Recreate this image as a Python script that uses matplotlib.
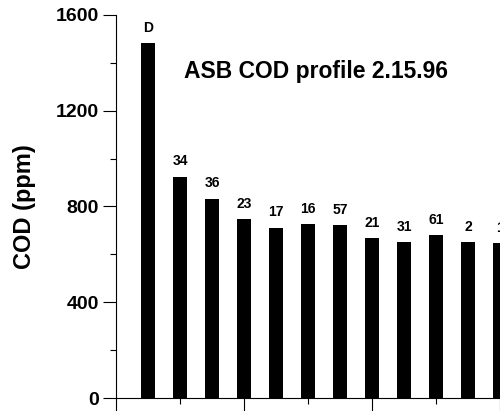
import matplotlib.pyplot as plt
from matplotlib.ticker import MultipleLocator

# sample points along the basin
labels = ['D', '34', '36', '23', '17', '16', '57', '21', '31', '61', '2', '1']
cod = [1483, 925, 833, 746, 712, 725, 721, 667, 650, 679, 650, 646]
positions = list(range(1, len(cod) + 1))

plt.rcParams['font.family'] = ['Liberation Sans', 'DejaVu Sans']
plt.rcParams['font.weight'] = 'bold'

fig = plt.figure(figsize=(5.0, 4.11), dpi=100)
ax = fig.add_axes([0.232, 0.0316, 0.768, 0.932])

ax.bar(positions, cod, width=0.41, color='black')
for x, y, lab in zip(positions, cod, labels):
    ax.annotate(lab, (x, y), xytext=(0, 6), textcoords='offset points',
                ha='center', va='bottom', fontsize=10, fontweight='bold')

ax.set_xlim(0, 12)
ax.set_ylim(0, 1600)
ax.yaxis.set_major_locator(MultipleLocator(400))
ax.yaxis.set_minor_locator(MultipleLocator(200))
ax.xaxis.set_major_locator(MultipleLocator(4))
ax.xaxis.set_minor_locator(MultipleLocator(2))
ax.set_xticklabels([])
ax.tick_params(axis='both', which='major', length=9.5, width=0.8, direction='out')
ax.tick_params(axis='both', which='minor', length=4.5, width=0.8, direction='out')
ax.tick_params(axis='y', labelsize=14, pad=3)
for t in ax.get_yticklabels():
    t.set_fontweight('bold')

ax.spines['top'].set_visible(False)
ax.spines['right'].set_visible(False)
ax.spines['left'].set_linewidth(0.8)
ax.spines['bottom'].set_linewidth(0.8)

ax.set_ylabel('COD (ppm)', fontsize=17, fontweight='bold', labelpad=14)
ax.text(0.52, 0.852, 'ASB COD profile 2.15.96', transform=ax.transAxes,
        ha='center', va='center', fontsize=16.5, fontweight='bold')

fig.savefig('out.png', dpi=100)
